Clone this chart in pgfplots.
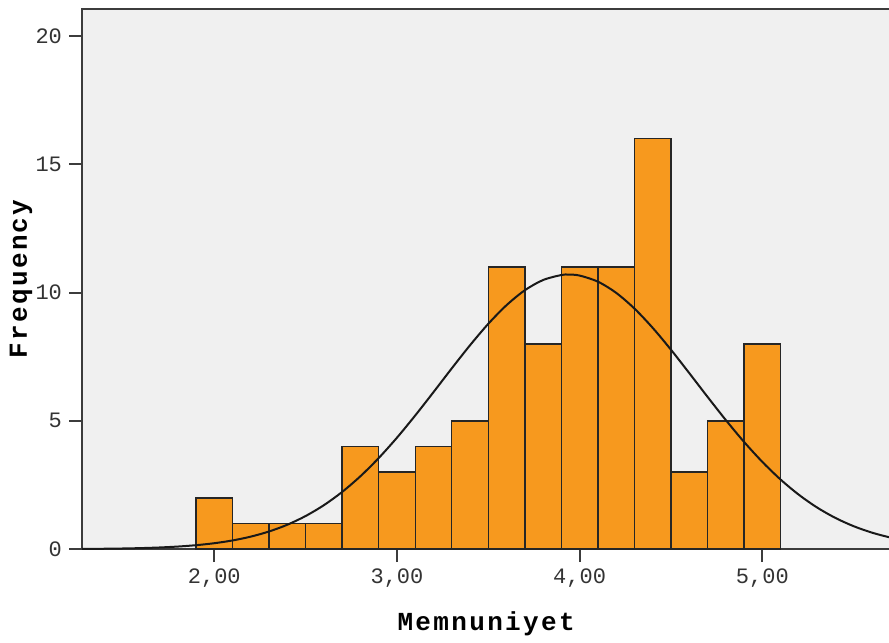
\documentclass[border=0pt]{standalone}
\usepackage{fontspec}
\setmainfont{Liberation Mono}
\usepackage{pgfplots}
\pgfplotsset{compat=1.18}
\definecolor{bg}{RGB}{240,240,240}
\definecolor{barfill}{RGB}{247,153,30}
\definecolor{axcol}{RGB}{60,60,60}
\begin{document}
\begin{tikzpicture}
\begin{axis}[name=ax,
  scale only axis,
  width=404pt, height=270pt,
  xmin=1.276, xmax=5.70, ymin=0, ymax=21.05,
  axis background/.style={fill=bg},
  axis line style={axcol, line width=1pt},
  tick style={axcol, line width=1pt},
  tick align=outside,
  major tick length=6.5pt,
  xtick={2,3,4,5},
  xticklabels={{2,00},{3,00},{4,00},{5,00}},
  ytick={0,5,10,15,20},
  xtick pos=bottom, ytick pos=left,
  /pgf/number format/assume math mode=true,
  ticklabel style={font=\fontsize{11}{13}\selectfont, text=black!80},
  every axis x label/.style={at={(axis description cs:0.5,0)}, yshift=-37.5pt, anchor=center},
  every axis y label/.style={at={(axis description cs:0,0.5)}, xshift=-30.5pt, rotate=90, anchor=center},
  label style={font=\fontsize{13}{15}\selectfont\bfseries\addfontfeatures{LetterSpace=9}},
  xlabel={Memnuniyet},
  ylabel={Frequency},
]
\addplot[ybar interval, fill=barfill, draw=black!85, line width=0.7pt] coordinates {
(1.9,2) (2.1,1) (2.3,1) (2.5,1) (2.7,4) (2.9,3) (3.1,4) (3.3,5)
(3.5,11) (3.7,8) (3.9,11) (4.1,11) (4.3,16) (4.5,3) (4.7,5) (4.9,8) (5.1,8)
};
\addplot[black!90, line width=1pt, smooth] coordinates {
(1.2,0.005) (1.3,0.0087) (1.4,0.0148) (1.5,0.0246) (1.6,0.0401) (1.7,0.0639)
(1.8,0.0999) (1.9,0.153) (2.0,0.230) (2.1,0.338) (2.2,0.487) (2.3,0.688)
(2.4,0.951) (2.5,1.290) (2.6,1.713) (2.7,2.229) (2.8,2.841) (2.9,3.549)
(3.0,4.343) (3.1,5.209) (3.2,6.119) (3.3,7.045) (3.4,7.946) (3.5,8.782)
(3.6,9.509) (3.7,10.089) (3.8,10.488) (3.9,10.683) (3.94,10.7) (4.0,10.661)
(4.1,10.424) (4.2,9.987) (4.3,9.375) (4.4,8.622) (4.5,7.770) (4.6,6.860)
(4.7,5.935) (4.8,5.031) (4.9,4.178) (5.0,3.400) (5.1,2.711) (5.2,2.118)
(5.3,1.621) (5.4,1.215) (5.5,0.893) (5.6,0.643) (5.7,0.454) (5.8,0.314)
};
\end{axis}
\pgfresetboundingbox
\path[use as bounding box] ([xshift=-41pt,yshift=-46.5pt]ax.south west) rectangle ([xshift=-0.6pt,yshift=4.5pt]ax.north east);
\end{tikzpicture}
\end{document}
